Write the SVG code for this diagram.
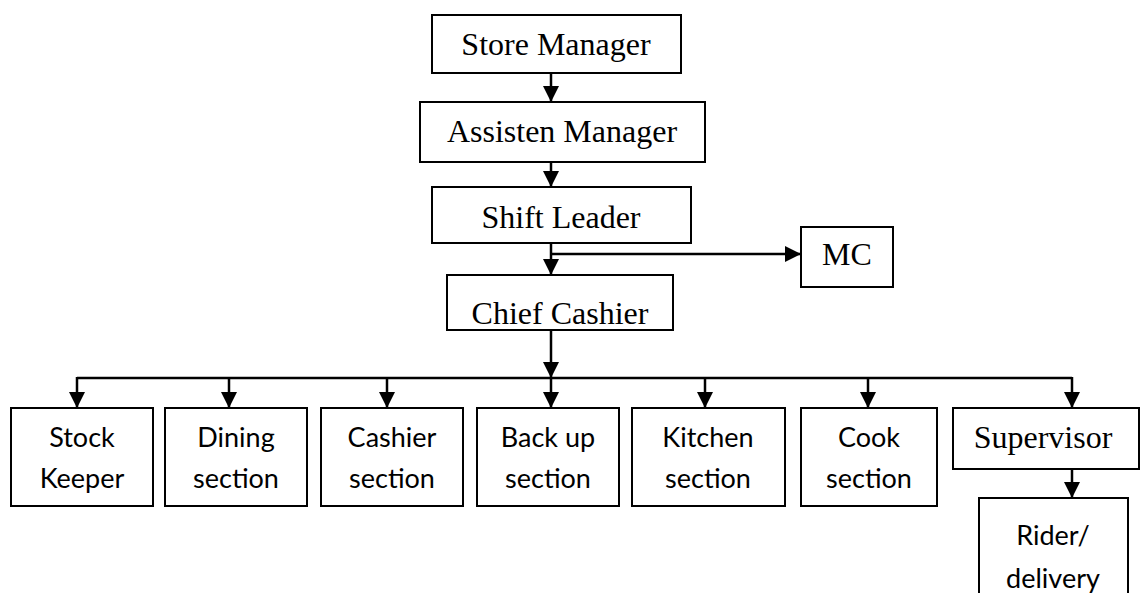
<svg xmlns="http://www.w3.org/2000/svg" width="1140" height="593" viewBox="0 0 1140 593">
<defs>
<style>
.box{fill:#fff;stroke:#000;stroke-width:2}
.tm{font-family:"Liberation Serif","Times New Roman",serif;font-size:32px;fill:#000;text-anchor:middle}
.cb{font-family:Lato,"Liberation Sans",sans-serif;font-size:27px;fill:#000;text-anchor:middle}
.ln{stroke:#000;stroke-width:2.5;fill:none}
.ar{marker-end:url(#ah)}
</style>
<marker id="ah" viewBox="0 0 16 16" refX="16" refY="8" markerWidth="16" markerHeight="16" markerUnits="userSpaceOnUse" orient="auto">
<path d="M0,0 L16,8 L0,16 z" fill="#000"/>
</marker>
</defs>
<rect width="1140" height="593" fill="#fff"/>
<g id="connectors">
<line class="ln ar" x1="551" y1="73" x2="551" y2="102"/>
<line class="ln ar" x1="551" y1="162" x2="551" y2="187"/>
<line class="ln ar" x1="551" y1="243" x2="551" y2="275"/>
<line class="ln ar" x1="551" y1="254" x2="801" y2="254"/>
<line class="ln ar" x1="551" y1="330" x2="551" y2="378"/>
<line class="ln" x1="77" y1="378" x2="1072" y2="378"/>
<line class="ln ar" x1="77" y1="377" x2="77" y2="408"/>
<line class="ln ar" x1="229" y1="377" x2="229" y2="408"/>
<line class="ln ar" x1="387" y1="377" x2="387" y2="408"/>
<line class="ln ar" x1="551" y1="377" x2="551" y2="408"/>
<line class="ln ar" x1="705" y1="377" x2="705" y2="408"/>
<line class="ln ar" x1="868" y1="377" x2="868" y2="408"/>
<line class="ln ar" x1="1072" y1="377" x2="1072" y2="408"/>
<line class="ln ar" x1="1072" y1="469" x2="1072" y2="498"/>
</g>
<g id="store-manager"><rect class="box" x="432" y="15" width="249" height="58"/><text class="tm" x="556" y="55">Store Manager</text></g>
<g id="assisten-manager"><rect class="box" x="420" y="102" width="285" height="60"/><text class="tm" x="562" y="142">Assisten Manager</text></g>
<g id="shift-leader"><rect class="box" x="432" y="187" width="259" height="56"/><text class="tm" x="561" y="228">Shift Leader</text></g>
<g id="mc"><rect class="box" x="801" y="227" width="92" height="60"/><text class="tm" x="847" y="265">MC</text></g>
<g id="chief-cashier"><rect class="box" x="447" y="275" width="226" height="55"/><text class="tm" x="560" y="324">Chief Cashier</text></g>
<g id="stock-keeper"><rect class="box" x="11" y="408" width="142" height="98"/><text class="cb" x="82" y="447">Stock</text><text class="cb" x="82" y="488">Keeper</text></g>
<g id="dining-section"><rect class="box" x="165" y="408" width="142" height="98"/><text class="cb" x="236" y="447">Dining</text><text class="cb" x="236" y="488">section</text></g>
<g id="cashier-section"><rect class="box" x="321" y="408" width="142" height="98"/><text class="cb" x="392" y="447">Cashier</text><text class="cb" x="392" y="488">section</text></g>
<g id="backup-section"><rect class="box" x="477" y="408" width="142" height="98"/><text class="cb" x="548" y="447">Back up</text><text class="cb" x="548" y="488">section</text></g>
<g id="kitchen-section"><rect class="box" x="632" y="408" width="153" height="98"/><text class="cb" x="708" y="447">Kitchen</text><text class="cb" x="708" y="488">section</text></g>
<g id="cook-section"><rect class="box" x="801" y="408" width="136" height="98"/><text class="cb" x="869" y="447">Cook</text><text class="cb" x="869" y="488">section</text></g>
<g id="supervisor"><rect class="box" x="953" y="408" width="186" height="61"/><text class="tm" x="1043" y="448">Supervisor</text></g>
<g id="rider-delivery"><rect class="box" x="979" y="498" width="149" height="110"/><text class="cb" x="1053" y="545">Rider/</text><text class="cb" x="1053" y="588">delivery</text></g>
</svg>
